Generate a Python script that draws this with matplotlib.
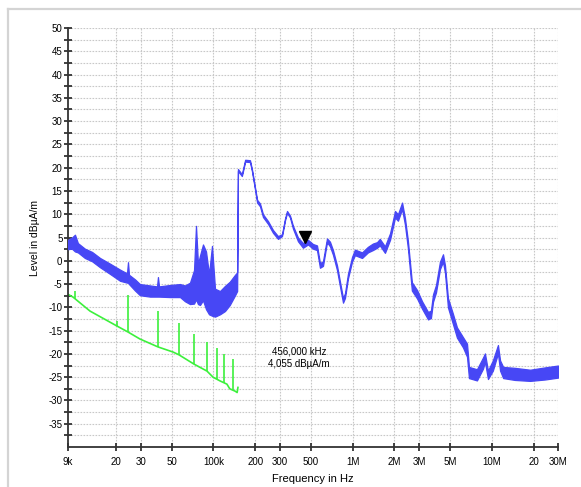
import numpy as np
import matplotlib
matplotlib.use("Agg")
import matplotlib.pyplot as plt
from matplotlib.lines import Line2D
from matplotlib.transforms import offset_copy

plt.rcParams['font.family'] = ['Liberation Sans', 'DejaVu Sans']
plt.rcParams['axes.unicode_minus'] = False

# ---- measured trace (centre level and half band width) ----
meas_freq = [9.0e3, 9.61e3, 10.1e3, 10.6e3, 11.9e3, 13.4e3, 15.3e3, 18.0e3, 21.3e3,
             23.9e3, 24.3e3, 24.7e3, 27.3e3, 29.6e3, 35.0e3, 39.3e3, 39.9e3, 40.6e3,
             48.7e3, 57.5e3, 62.4e3, 67.8e3, 72.5e3, 74.9e3, 77.4e3, 80.0e3, 84.1e3,
             88.4e3, 92.9e3, 97.6e3, 102.6e3, 111.4e3, 121e3, 131e3, 143e3, 148e3,
             150e3, 160e3, 169e3, 183e3, 189e3, 199e3, 206e3, 216e3, 227e3, 247e3,
             268e3, 291e3, 311e3, 327e3, 338e3, 355e3, 373e3, 405e3, 440e3, 478e3,
             519e3, 555e3, 583e3, 613e3, 655e3, 688e3, 723e3, 773e3, 812e3, 854e3,
             882e3, 927e3, 991e3, 1.04e6, 1.17e6, 1.29e6, 1.40e6, 1.50e6, 1.57e6,
             1.71e6, 1.86e6, 2.02e6, 2.12e6, 2.27e6, 2.38e6, 2.50e6, 2.67e6, 2.91e6,
             3.16e6, 3.49e6, 3.66e6, 3.79e6, 3.98e6, 4.25e6, 4.47e6, 4.62e6, 4.85e6,
             5.27e6, 5.63e6, 6.22e6, 6.65e6, 6.87e6, 7.84e6, 8.66e6, 8.95e6, 9.41e6,
             10.2e6, 11.1e6, 11.5e6, 12.1e6, 14.7e6, 18.9e6, 24.2e6, 30e6]
meas_level = [3.5, 3.8, 3.8, 2.8, 1.6, 0.9, -0.4, -1.7, -3.1,
              -3.7, -2.5, -4.0, -5.2, -6.2, -6.5, -6.6, -5.6, -6.6,
              -6.5, -6.4, -7.0, -7.0, -5.6, -0.4, -5.0, -4.2, -2.5,
              -4.2, -7.2, -4.3, -9.0, -9.0, -8.1, -7.0, -5.2, -4.5,
              19.5, 18.4, 21.5, 21.4, 19.5, 15.5, 12.8, 12.0, 9.7, 8.2,
              6.3, 5.0, 5.5, 8.9, 10.5, 9.5, 7.2, 4.6, 3.3, 4.0,
              3.1, 2.8, -1.0, -0.6, 4.4, 3.6, 1.8, -1.5, -5.0, -8.5,
              -7.5, -3.3, 0.3, 1.8, 1.2, 2.4, 3.0, 3.4, 4.0,
              2.4, 5.2, 10.0, 9.3, 11.8, 8.5, 3.5, -5.5, -7.2,
              -9.5, -11.8, -11.5, -8.0, -6.0, -1.0, 0.6, -1.8, -9.0,
              -12.5, -15.4, -17.5, -19.2, -24.0, -24.5, -22.0, -20.8, -24.5,
              -22.5, -19.0, -22.5, -24.0, -24.3, -24.6, -24.2, -23.8]
meas_spread = [1.0, 1.2, 1.8, 1.0, 1.0, 1.0, 1.0, 1.1, 1.2,
               1.0, 2.2, 1.0, 1.2, 1.2, 1.2, 1.1, 2.1, 1.1,
               1.3, 1.4, 1.7, 2.3, 3.6, 7.9, 4.3, 5.3, 6.0,
               6.2, 4.3, 7.5, 3.0, 2.5, 2.7, 2.5, 2.2, 2.0,
               0.2, 0.2, 0.2, 0.2, 0.2, 0.2, 0.3, 0.3, 0.3, 0.3,
               0.3, 0.3, 0.2, 0.2, 0.2, 0.2, 0.3, 0.4, 0.5, 0.5,
               0.5, 0.5, 0.5, 0.5, 0.4, 0.5, 0.5, 0.5, 0.5, 0.5,
               0.5, 0.5, 0.5, 0.6, 0.6, 0.6, 0.7, 0.6, 0.7,
               0.7, 0.7, 0.7, 0.7, 0.7, 0.7, 0.8, 0.9, 0.9,
               0.8, 0.8, 0.8, 0.8, 0.8, 0.8, 0.8, 0.8, 1.0,
               1.1, 1.1, 1.1, 1.4, 1.2, 1.2, 1.2, 0.9, 0.9,
               1.1, 0.9, 1.1, 1.2, 1.3, 1.2, 1.3, 1.3]

# ---- reference trace: smooth base plus narrow lines ----
ref_freq = [9.0e3, 9.78e3, 12.95e3, 20.2e3, 24.3e3, 29.6e3, 39.9e3, 51.2e3, 56.5e3,
            72.5e3, 89.9e3, 99.3e3, 111.4e3, 125e3, 131e3, 143e3, 148e3, 150e3]
ref_level = [-7.2, -7.8, -10.8, -14.0, -15.3, -16.8, -18.5, -19.6, -20.2,
             -22.2, -23.7, -25.0, -25.8, -26.5, -27.5, -28.0, -28.3, -27.2]
ref_spike_freq = [10.1e3, 20.2e3, 24.3e3, 39.9e3, 56.5e3, 72.5e3, 89.9e3, 106e3, 119e3, 138e3]
ref_spike_top = [-6.5, -13.0, -7.4, -10.8, -13.4, -15.7, -17.5, -18.7, -20.0, -21.1]

# ---- marker ----
marker_freq = 456e3
marker_level = 4.055
marker_lines = ['456,000 kHz', '4,055 dBµA/m']

xtick_vals = [9e3, 20e3, 30e3, 50e3, 100e3, 200e3, 300e3, 500e3, 1e6, 2e6, 3e6, 5e6, 10e6, 20e6, 30e6]
xtick_labels = ['9k', '20', '30', '50', '100k', '200', '300', '500', '1M', '2M', '3M', '5M', '10M', '20', '30M']
ytick_vals = list(range(-35, 51, 5))

BLUE = '#4747f5'
GREEN = '#3cf03c'
GRID = dict(color='#c8c8c8', lw=0.8, ls=(0, (1.5, 1.2)), zorder=0)

fig = plt.figure(figsize=(5.81, 4.87), dpi=100)
ax = fig.add_axes([68 / 581, 40 / 487, 490 / 581, 419 / 487])

# panel border
fig.add_artist(Line2D([8 / 581, 1], [1 - 8.5 / 487, 1 - 8.5 / 487], color='#d4d4d4', lw=1.6,
                      transform=fig.transFigure))
fig.add_artist(Line2D([8 / 581, 8 / 581], [0, 1 - 8.5 / 487], color='#d4d4d4', lw=1.6,
                      transform=fig.transFigure))

ax.set_xscale('log')
ax.set_xlim(9e3, 30e6)
ax.set_ylim(-40, 50)

# grid: each labelled frequency vertically, every 2.5 dB horizontally
for xv in xtick_vals[1:]:
    ax.axvline(xv, **GRID)
for yv in np.arange(-37.5, 50.1, 2.5):
    ax.axhline(yv, **GRID)

f = np.array(meas_freq)
lv = np.array(meas_level)
sp = np.array(meas_spread)
ax.fill_between(f, lv - sp, lv + sp, color=BLUE, lw=0.9, edgecolor=BLUE, zorder=3)

ax.plot(ref_freq, ref_level, color=GREEN, lw=1.2, zorder=2)
base = np.interp(np.log10(ref_spike_freq), np.log10(ref_freq), ref_level)
ax.vlines(ref_spike_freq, base, ref_spike_top, color=GREEN, lw=1.2, zorder=2)

# marker sits just above the point it labels
mk_tr = offset_copy(ax.transData, fig=fig, x=0, y=5, units='dots')
ax.plot([marker_freq], [marker_level], marker='v', color='black', ms=9, transform=mk_tr, zorder=5)
ax.text(412e3, -19.4, marker_lines[0], fontsize=7, ha='center', va='center')
ax.text(412e3, -22.2, marker_lines[1], fontsize=7, ha='center', va='center')

for s in ['top', 'right']:
    ax.spines[s].set_visible(False)
for s in ['left', 'bottom']:
    ax.spines[s].set_color('#333333')
    ax.spines[s].set_linewidth(1.3)

ax.set_xticks(xtick_vals)
ax.set_xticklabels(xtick_labels)
ax.xaxis.set_minor_locator(plt.NullLocator())
ax.set_yticks(ytick_vals)
ax.set_yticklabels([str(v) for v in ytick_vals])
ax.set_yticks(np.arange(-37.5, 50, 5), minor=True)
ax.tick_params(axis='both', which='major', direction='inout', length=6, width=1.2,
               color='#222222', labelsize=7)
ax.tick_params(axis='y', which='minor', direction='inout', length=6, width=1.2, color='#222222')
ax.tick_params(axis='x', pad=4)
ax.tick_params(axis='y', pad=1)

ax.set_xlabel('Frequency in Hz', fontsize=8, labelpad=5)
ax.set_ylabel('Level in dBµA/m', fontsize=7.5, labelpad=6)

fig.savefig('out.png', dpi=100)
